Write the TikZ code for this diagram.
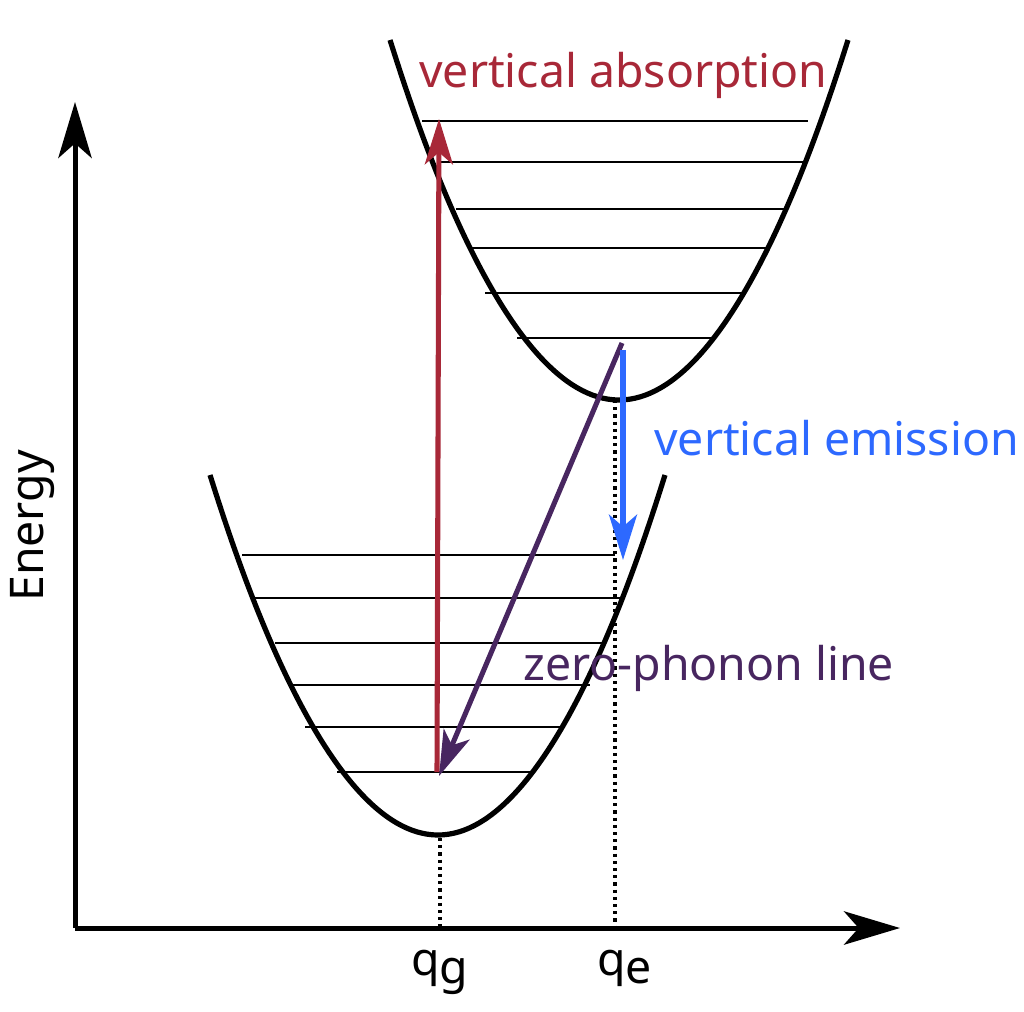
\documentclass[tikz,border=0pt]{standalone}
\usepackage{fontspec}
\setmainfont{Noto Sans}
\usetikzlibrary{arrows.meta}
\definecolor{absred}{RGB}{168,40,56}
\definecolor{zplpurple}{RGB}{72,38,96}
\definecolor{emblue}{RGB}{45,105,255}

\begin{document}
\begin{tikzpicture}[x=0.75pt,y=-0.75pt,
  axis/.style={line width=3.75pt,-{Stealth[length=42pt,width=25pt,inset=11pt]}},
  well/.style={line width=3.9pt},
  level/.style={line width=1.9pt},
  trans/.style={line width=3.8pt,-{Stealth[length=34pt,width=21pt,inset=9pt]}},
  guide/.style={line width=2.4pt,dash pattern=on 2.4pt off 3pt},
  label/.style={font=\fontsize{34.8}{41}\selectfont,inner sep=0pt}]

\useasboundingbox (0,0) rectangle (1024,1011);

% axes
\coordinate (origin) at (75,928);
\coordinate (etop) at (75,102);
\coordinate (qend) at (900,928);
\draw[axis] (origin) -- (etop);
\draw[axis] (origin) -- (qend);

% potential wells
\draw[well] (210,475) parabola bend (438,835) (665,475);
\draw[well] (390,40) parabola bend (619,400) (848,40);

% vibrational levels
\foreach \y/\xa/\xb in {555/242/615,598/255/620,643/275/605,685/288/590,727/305/565,772/337/535}
  \draw[level] (\xa,\y) -- (\xb,\y);
\foreach \y/\xa/\xb in {121/422/808,162/440/803,209/456/785,248/470/770,293/485/746,338/517/716}
  \draw[level] (\xa,\y) -- (\xb,\y);

% minima
\coordinate (gmin) at (440,838);
\coordinate (emin) at (615,400);
\coordinate (gaxis) at (440,928);
\coordinate (eaxis) at (615,928);
\draw[guide] (gmin) -- (gaxis);
\draw[guide] (emin) -- (eaxis);

% transitions
\coordinate (g0) at (437,772);
\coordinate (eup) at (439,119);
\coordinate (e0) at (622,343);
\coordinate (e0b) at (623,350);
\coordinate (gzpl) at (439,776);
\coordinate (gup) at (623,560);
\draw[trans,absred] (g0) -- (eup);
\draw[trans,zplpurple] (e0) -- (gzpl);
\draw[trans,emblue] (e0b) -- (gup);

\node[label,text=absred,anchor=base west] (abs) at (419,87) {vertical absorption};
\node[label,text=emblue,anchor=base west] (emi) at (654,455) {vertical emission};
\node[label,text=zplpurple,anchor=base west] (zpl) at (523,680) {zero-phonon line};
\node[label,rotate=90,anchor=base west] (energy) at (43,602) {Energy};
\node[label,anchor=base west] (qg) at (411,975) {q\raisebox{-0.18em}{g}};
\node[label,anchor=base west] (qe) at (597,975) {q\raisebox{-0.18em}{e}};
\end{tikzpicture}
\end{document}
